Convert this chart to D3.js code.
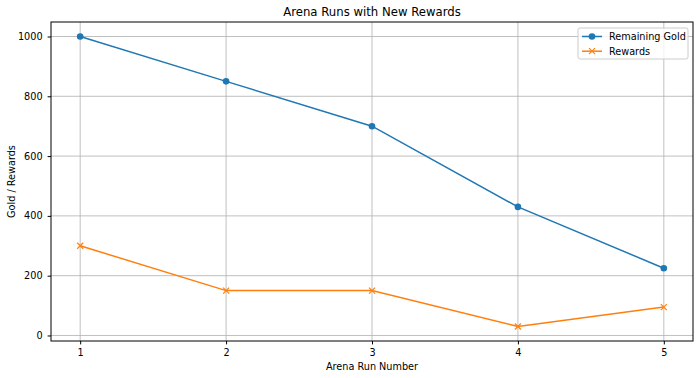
<!DOCTYPE html>
<html>
<head>
<script src="https://d3js.org/d3.v7.min.js"></script>
<style>
  body { margin: 0; background: #fff; }
  text { font-family: "DejaVu Sans", sans-serif; fill: #000; }
  .grid line { stroke: #b0b0b0; stroke-width: 0.8; }
  .axis path { stroke: #000; }
  .axis line { stroke: #000; }
</style>
</head>
<body>
<svg id="chart" width="700" height="378"></svg>
<script>
// data
const runs = [1, 2, 3, 4, 5];
const remainingGold = [1000, 850, 700, 430, 225];
const rewards = [300, 150, 150, 30, 95];
const yTicks = [0, 200, 400, 600, 800, 1000];

const svg = d3.select("#chart");
const margin = {left: 51, right: 7, top: 22, bottom: 37};
const width = 700 - margin.left - margin.right;
const height = 378 - margin.top - margin.bottom;
const fs = "9.7px";

const g = svg.append("g").attr("transform", `translate(${margin.left},${margin.top})`);

const x = d3.scaleLinear().domain([0.8, 5.2]).range([0, width]);
const allVals = remainingGold.concat(rewards);
const yMin = d3.min(allVals), yMax = d3.max(allVals);
const pad = (yMax - yMin) * 0.05;
const y = d3.scaleLinear().domain([yMin - pad, yMax + pad]).range([height, 0]);

// grid
g.append("g").attr("class", "grid")
  .selectAll("line").data(runs).join("line")
  .attr("x1", d => x(d)).attr("x2", d => x(d))
  .attr("y1", 0).attr("y2", height);
g.append("g").attr("class", "grid")
  .selectAll("line").data(yTicks).join("line")
  .attr("x1", 0).attr("x2", width)
  .attr("y1", d => y(d)).attr("y2", d => y(d));

// axes
const xAxis = g.append("g").attr("class", "axis")
  .attr("transform", `translate(0,${height})`)
  .call(d3.axisBottom(x).tickValues(runs).tickFormat(d3.format("d")).tickSize(3.4).tickPadding(5));
const yAxis = g.append("g").attr("class", "axis")
  .call(d3.axisLeft(y).tickValues(yTicks).tickFormat(d3.format("d")).tickSize(3.4).tickPadding(5));
[xAxis, yAxis].forEach(a => {
  a.select(".domain").remove();
  a.selectAll("text").style("font-size", fs).attr("font-family", null);
});

// frame
g.append("rect").attr("width", width).attr("height", height)
  .attr("fill", "none").attr("stroke", "#000").attr("stroke-width", 1);

const line = d3.line().x((d, i) => x(runs[i])).y(d => y(d));

// Remaining gold
g.append("path").datum(remainingGold)
  .attr("d", line).attr("fill", "none")
  .attr("stroke", "#1f77b4").attr("stroke-width", 1.5);
g.selectAll("circle.gold").data(remainingGold).join("circle")
  .attr("cx", (d, i) => x(runs[i])).attr("cy", d => y(d))
  .attr("r", 3.3).attr("fill", "#1f77b4");

// Rewards
g.append("path").datum(rewards)
  .attr("d", line).attr("fill", "none")
  .attr("stroke", "#ff7f0e").attr("stroke-width", 1.5);
const s = 3;
g.selectAll("path.xmark").data(rewards).join("path")
  .attr("class", "xmark")
  .attr("d", (d, i) => {
    const cx = x(runs[i]), cy = y(d);
    return `M${cx - s},${cy - s}L${cx + s},${cy + s}M${cx - s},${cy + s}L${cx + s},${cy - s}`;
  })
  .attr("stroke", "#ff7f0e").attr("stroke-width", 1.2).attr("fill", "none");

// title & labels
svg.append("text").attr("x", margin.left + width / 2).attr("y", 16)
  .attr("text-anchor", "middle").style("font-size", "11.7px")
  .text("Arena Runs with New Rewards");
svg.append("text").attr("x", margin.left + width / 2).attr("y", 370)
  .attr("text-anchor", "middle").style("font-size", fs)
  .text("Arena Run Number");
svg.append("text")
  .attr("transform", `translate(15,${margin.top + height / 2}) rotate(-90)`)
  .attr("text-anchor", "middle").style("font-size", fs)
  .text("Gold / Rewards");

// legend
const legend = g.append("g").attr("transform", `translate(${width - 115},6)`);
legend.append("rect").attr("width", 110).attr("height", 31).attr("rx", 2)
  .attr("fill", "#fff").attr("fill-opacity", 0.8)
  .attr("stroke", "#ccc").attr("stroke-width", 1);
const items = [
  {name: "Remaining Gold", color: "#1f77b4", marker: "circle"},
  {name: "Rewards", color: "#ff7f0e", marker: "x"}
];
items.forEach((it, i) => {
  const ly = 8.5 + i * 14.7;
  legend.append("line").attr("x1", 4).attr("x2", 24).attr("y1", ly).attr("y2", ly)
    .attr("stroke", it.color).attr("stroke-width", 1.5);
  if (it.marker === "circle") {
    legend.append("circle").attr("cx", 14).attr("cy", ly).attr("r", 3.3).attr("fill", it.color);
  } else {
    legend.append("path")
      .attr("d", `M${14 - s},${ly - s}L${14 + s},${ly + s}M${14 - s},${ly + s}L${14 + s},${ly - s}`)
      .attr("stroke", it.color).attr("stroke-width", 1.2);
  }
  legend.append("text").attr("x", 31).attr("y", ly + 3.5)
    .style("font-size", fs).text(it.name);
});
</script>
</body>
</html>
